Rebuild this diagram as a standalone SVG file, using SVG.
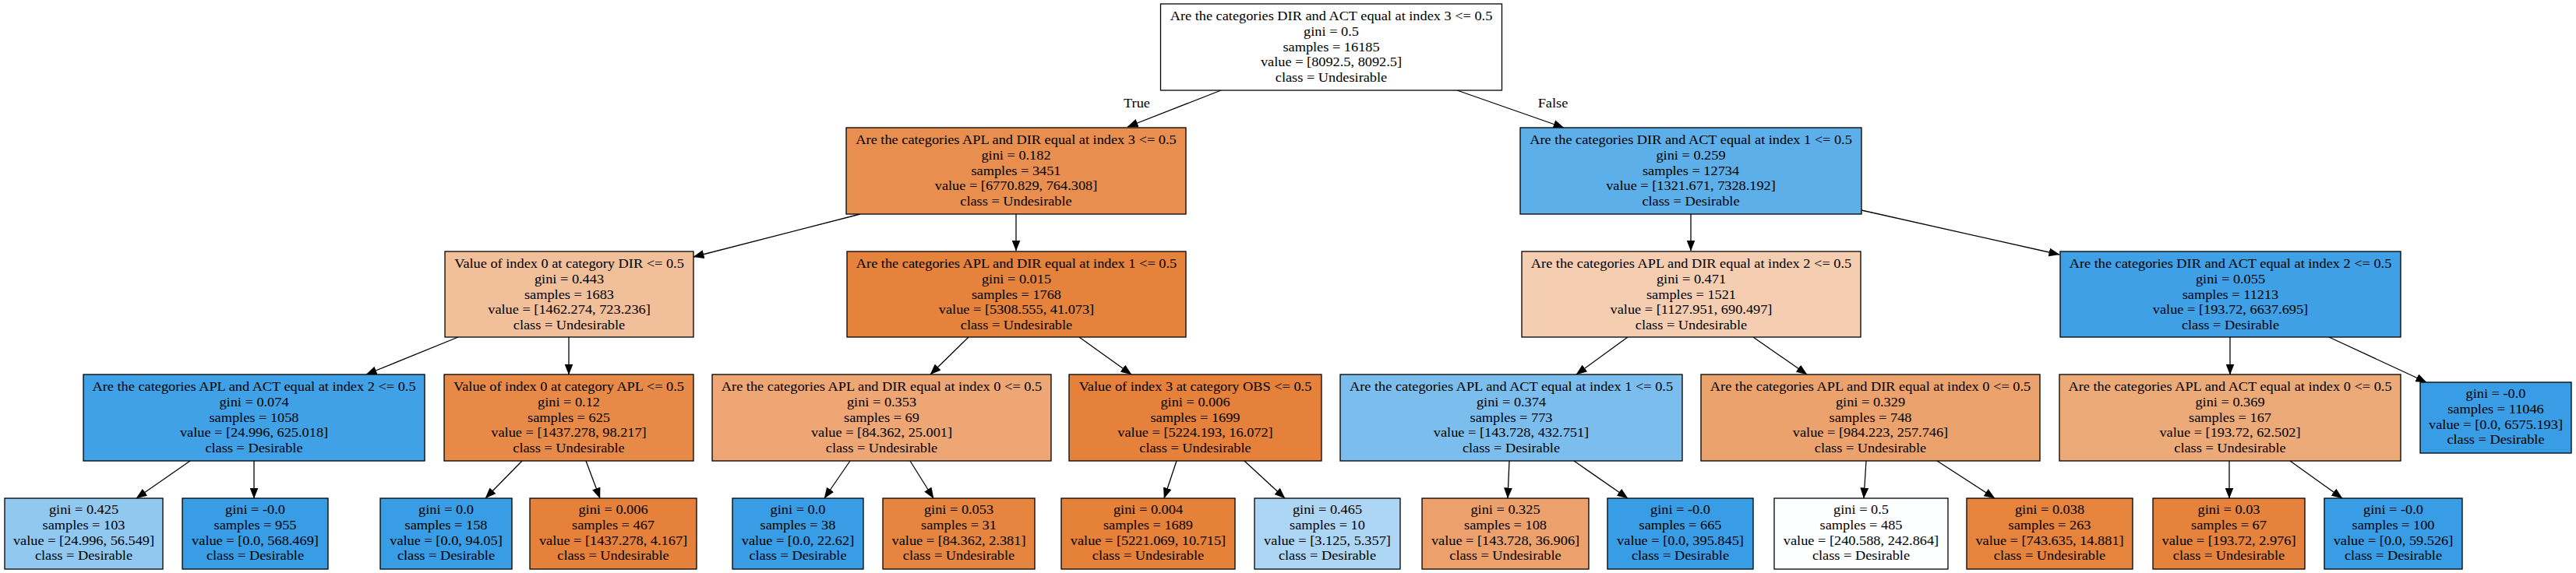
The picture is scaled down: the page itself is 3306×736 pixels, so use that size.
<svg xmlns="http://www.w3.org/2000/svg" width="3306" height="736" viewBox="0 0 3306 736">
<style>
.node rect{stroke:#000;stroke-width:1.3}
text{font-family:"Liberation Serif","Times New Roman",serif;font-size:16.8px;text-anchor:middle;fill:#000}
.edges line{stroke:#000;stroke-width:1.3;marker-end:url(#ah)}
</style>
<defs>
<marker id="ah" markerUnits="userSpaceOnUse" markerWidth="14" markerHeight="11" refX="13.5" refY="5.5" orient="auto">
<path d="M0,0 L14,5.5 L0,11 z" fill="#000"/>
</marker>
</defs>
<rect width="3306" height="736" fill="#fff"/>
<g class="edges">
<line x1="1567" y1="116" x2="1447" y2="163"/>
<line x1="1870" y1="116" x2="2007" y2="164"/>
<line x1="1104" y1="275" x2="890" y2="330"/>
<line x1="1304" y1="275" x2="1304" y2="322"/>
<line x1="2170" y1="275" x2="2170" y2="322"/>
<line x1="2389" y1="270" x2="2643" y2="327"/>
<line x1="588" y1="433" x2="470" y2="481"/>
<line x1="730" y1="433" x2="730" y2="481"/>
<line x1="1243" y1="433" x2="1194" y2="481"/>
<line x1="1385" y1="433" x2="1452" y2="481"/>
<line x1="2089" y1="433" x2="2023" y2="481"/>
<line x1="2250" y1="433" x2="2319" y2="481"/>
<line x1="2862" y1="433" x2="2862" y2="481"/>
<line x1="2989" y1="433" x2="3114" y2="491"/>
<line x1="244" y1="592" x2="175" y2="640"/>
<line x1="326" y1="592" x2="326" y2="640"/>
<line x1="670" y1="592" x2="623" y2="640"/>
<line x1="752" y1="592" x2="770" y2="640"/>
<line x1="1091" y1="592" x2="1058" y2="640"/>
<line x1="1168" y1="592" x2="1198" y2="640"/>
<line x1="1510" y1="592" x2="1494" y2="640"/>
<line x1="1597" y1="592" x2="1649" y2="640"/>
<line x1="1937" y1="592" x2="1935" y2="640"/>
<line x1="2020" y1="592" x2="2089" y2="640"/>
<line x1="2395" y1="592" x2="2392" y2="640"/>
<line x1="2486" y1="592" x2="2560" y2="640"/>
<line x1="2861" y1="592" x2="2861" y2="640"/>
<line x1="2939" y1="592" x2="3006" y2="640"/>
<g transform="translate(1459,0) scale(1.09,1)"><text y="138">True</text></g>
<g transform="translate(1993,0) scale(1.09,1)"><text y="138">False</text></g>
</g>

<g id="n0" class="node"><rect x="1489.5" y="5" width="438" height="111" fill="#ffffff"/>
<g transform="translate(1708.5,0) scale(1.09,1)"><text y="26">Are the categories DIR and ACT equal at index 3 &lt;= 0.5</text><text y="45.8">gini = 0.5</text><text y="65.6">samples = 16185</text><text y="85.4">value = [8092.5, 8092.5]</text><text y="105.2">class = Undesirable</text></g></g>

<g id="n1" class="node"><rect x="1086" y="164" width="436" height="111" fill="#e88f4f"/>
<g transform="translate(1304,0) scale(1.09,1)"><text y="185">Are the categories APL and DIR equal at index 3 &lt;= 0.5</text><text y="204.8">gini = 0.182</text><text y="224.6">samples = 3451</text><text y="244.4">value = [6770.829, 764.308]</text><text y="264.2">class = Undesirable</text></g></g>

<g id="n2" class="node"><rect x="1951" y="164" width="438" height="111" fill="#5dafea"/>
<g transform="translate(2170,0) scale(1.09,1)"><text y="185">Are the categories DIR and ACT equal at index 1 &lt;= 0.5</text><text y="204.8">gini = 0.259</text><text y="224.6">samples = 12734</text><text y="244.4">value = [1321.671, 7328.192]</text><text y="264.2">class = Desirable</text></g></g>

<g id="n3" class="node"><rect x="571" y="323" width="319" height="110" fill="#f2bf9b"/>
<g transform="translate(730.5,0) scale(1.09,1)"><text y="344">Value of index 0 at category DIR &lt;= 0.5</text><text y="363.8">gini = 0.443</text><text y="383.6">samples = 1683</text><text y="403.4">value = [1462.274, 723.236]</text><text y="423.2">class = Undesirable</text></g></g>

<g id="n4" class="node"><rect x="1087" y="323" width="435" height="110" fill="#e5823b"/>
<g transform="translate(1304.5,0) scale(1.09,1)"><text y="344">Are the categories APL and DIR equal at index 1 &lt;= 0.5</text><text y="363.8">gini = 0.015</text><text y="383.6">samples = 1768</text><text y="403.4">value = [5308.555, 41.073]</text><text y="423.2">class = Undesirable</text></g></g>

<g id="n5" class="node"><rect x="1953" y="323" width="435" height="110" fill="#f5ceb2"/>
<g transform="translate(2170.5,0) scale(1.09,1)"><text y="344">Are the categories APL and DIR equal at index 2 &lt;= 0.5</text><text y="363.8">gini = 0.471</text><text y="383.6">samples = 1521</text><text y="403.4">value = [1127.951, 690.497]</text><text y="423.2">class = Undesirable</text></g></g>

<g id="n6" class="node"><rect x="2644" y="323" width="437" height="110" fill="#3fa0e6"/>
<g transform="translate(2862.5,0) scale(1.09,1)"><text y="344">Are the categories DIR and ACT equal at index 2 &lt;= 0.5</text><text y="363.8">gini = 0.055</text><text y="383.6">samples = 11213</text><text y="403.4">value = [193.72, 6637.695]</text><text y="423.2">class = Desirable</text></g></g>

<g id="n7" class="node"><rect x="107" y="481" width="438" height="111" fill="#41a1e6"/>
<g transform="translate(326,0) scale(1.09,1)"><text y="502">Are the categories APL and ACT equal at index 2 &lt;= 0.5</text><text y="521.8">gini = 0.074</text><text y="541.6">samples = 1058</text><text y="561.4">value = [24.996, 625.018]</text><text y="581.2">class = Desirable</text></g></g>

<g id="n8" class="node"><rect x="570" y="481" width="320" height="111" fill="#e78a47"/>
<g transform="translate(730,0) scale(1.09,1)"><text y="502">Value of index 0 at category APL &lt;= 0.5</text><text y="521.8">gini = 0.12</text><text y="541.6">samples = 625</text><text y="561.4">value = [1437.278, 98.217]</text><text y="581.2">class = Undesirable</text></g></g>

<g id="n9" class="node"><rect x="914" y="481" width="435" height="111" fill="#eda674"/>
<g transform="translate(1131.5,0) scale(1.09,1)"><text y="502">Are the categories APL and DIR equal at index 0 &lt;= 0.5</text><text y="521.8">gini = 0.353</text><text y="541.6">samples = 69</text><text y="561.4">value = [84.362, 25.001]</text><text y="581.2">class = Undesirable</text></g></g>

<g id="n10" class="node"><rect x="1372" y="481" width="324" height="111" fill="#e5813a"/>
<g transform="translate(1534,0) scale(1.09,1)"><text y="502">Value of index 3 at category OBS &lt;= 0.5</text><text y="521.8">gini = 0.006</text><text y="541.6">samples = 1699</text><text y="561.4">value = [5224.193, 16.072]</text><text y="581.2">class = Undesirable</text></g></g>

<g id="n11" class="node"><rect x="1720" y="481" width="439" height="111" fill="#7bbeee"/>
<g transform="translate(1939.5,0) scale(1.09,1)"><text y="502">Are the categories APL and ACT equal at index 1 &lt;= 0.5</text><text y="521.8">gini = 0.374</text><text y="541.6">samples = 773</text><text y="561.4">value = [143.728, 432.751]</text><text y="581.2">class = Desirable</text></g></g>

<g id="n12" class="node"><rect x="2183" y="481" width="435" height="111" fill="#eca26d"/>
<g transform="translate(2400.5,0) scale(1.09,1)"><text y="502">Are the categories APL and DIR equal at index 0 &lt;= 0.5</text><text y="521.8">gini = 0.329</text><text y="541.6">samples = 748</text><text y="561.4">value = [984.223, 257.746]</text><text y="581.2">class = Undesirable</text></g></g>

<g id="n13" class="node"><rect x="2643" y="481" width="438" height="111" fill="#edaa79"/>
<g transform="translate(2862,0) scale(1.09,1)"><text y="502">Are the categories APL and ACT equal at index 0 &lt;= 0.5</text><text y="521.8">gini = 0.369</text><text y="541.6">samples = 167</text><text y="561.4">value = [193.72, 62.502]</text><text y="581.2">class = Undesirable</text></g></g>

<g id="l15" class="node"><rect x="3106" y="491" width="194" height="91" fill="#399de5"/>
<g transform="translate(3203,0) scale(1.09,1)"><text y="511">gini = -0.0</text><text y="530.8">samples = 11046</text><text y="550.6">value = [0.0, 6575.193]</text><text y="570.4">class = Desirable</text></g></g>

<g id="l1" class="node"><rect x="6" y="640" width="203" height="91" fill="#91c8f0"/>
<g transform="translate(107.5,0) scale(1.09,1)"><text y="660">gini = 0.425</text><text y="679.8">samples = 103</text><text y="699.6">value = [24.996, 56.549]</text><text y="719.4">class = Desirable</text></g></g>

<g id="l2" class="node"><rect x="234" y="640" width="187" height="91" fill="#399de5"/>
<g transform="translate(327.5,0) scale(1.09,1)"><text y="660">gini = -0.0</text><text y="679.8">samples = 955</text><text y="699.6">value = [0.0, 568.469]</text><text y="719.4">class = Desirable</text></g></g>

<g id="l3" class="node"><rect x="488" y="640" width="169" height="91" fill="#399de5"/>
<g transform="translate(572.5,0) scale(1.09,1)"><text y="660">gini = 0.0</text><text y="679.8">samples = 158</text><text y="699.6">value = [0.0, 94.05]</text><text y="719.4">class = Desirable</text></g></g>

<g id="l4" class="node"><rect x="680" y="640" width="214" height="91" fill="#e5813a"/>
<g transform="translate(787,0) scale(1.09,1)"><text y="660">gini = 0.006</text><text y="679.8">samples = 467</text><text y="699.6">value = [1437.278, 4.167]</text><text y="719.4">class = Undesirable</text></g></g>

<g id="l5" class="node"><rect x="940" y="640" width="168" height="91" fill="#399de5"/>
<g transform="translate(1024,0) scale(1.09,1)"><text y="660">gini = 0.0</text><text y="679.8">samples = 38</text><text y="699.6">value = [0.0, 22.62]</text><text y="719.4">class = Desirable</text></g></g>

<g id="l6" class="node"><rect x="1133" y="640" width="195" height="91" fill="#e6853f"/>
<g transform="translate(1230.5,0) scale(1.09,1)"><text y="660">gini = 0.053</text><text y="679.8">samples = 31</text><text y="699.6">value = [84.362, 2.381]</text><text y="719.4">class = Undesirable</text></g></g>

<g id="l7" class="node"><rect x="1362" y="640" width="223" height="91" fill="#e58139"/>
<g transform="translate(1473.5,0) scale(1.09,1)"><text y="660">gini = 0.004</text><text y="679.8">samples = 1689</text><text y="699.6">value = [5221.069, 10.715]</text><text y="719.4">class = Undesirable</text></g></g>

<g id="l8" class="node"><rect x="1610" y="640" width="187" height="91" fill="#add6f4"/>
<g transform="translate(1703.5,0) scale(1.09,1)"><text y="660">gini = 0.465</text><text y="679.8">samples = 10</text><text y="699.6">value = [3.125, 5.357]</text><text y="719.4">class = Desirable</text></g></g>

<g id="l9" class="node"><rect x="1825" y="640" width="214" height="91" fill="#eca16c"/>
<g transform="translate(1932,0) scale(1.09,1)"><text y="660">gini = 0.325</text><text y="679.8">samples = 108</text><text y="699.6">value = [143.728, 36.906]</text><text y="719.4">class = Undesirable</text></g></g>

<g id="l10" class="node"><rect x="2063" y="640" width="187" height="91" fill="#399de5"/>
<g transform="translate(2156.5,0) scale(1.09,1)"><text y="660">gini = -0.0</text><text y="679.8">samples = 665</text><text y="699.6">value = [0.0, 395.845]</text><text y="719.4">class = Desirable</text></g></g>

<g id="l11" class="node"><rect x="2277" y="640" width="223" height="91" fill="#fdfeff"/>
<g transform="translate(2388.5,0) scale(1.09,1)"><text y="660">gini = 0.5</text><text y="679.8">samples = 485</text><text y="699.6">value = [240.588, 242.864]</text><text y="719.4">class = Desirable</text></g></g>

<g id="l12" class="node"><rect x="2524" y="640" width="213" height="91" fill="#e6843d"/>
<g transform="translate(2630.5,0) scale(1.09,1)"><text y="660">gini = 0.038</text><text y="679.8">samples = 263</text><text y="699.6">value = [743.635, 14.881]</text><text y="719.4">class = Undesirable</text></g></g>

<g id="l13" class="node"><rect x="2763" y="640" width="195" height="91" fill="#e5833c"/>
<g transform="translate(2860.5,0) scale(1.09,1)"><text y="660">gini = 0.03</text><text y="679.8">samples = 67</text><text y="699.6">value = [193.72, 2.976]</text><text y="719.4">class = Undesirable</text></g></g>

<g id="l14" class="node"><rect x="2983" y="640" width="177" height="91" fill="#399de5"/>
<g transform="translate(3071.5,0) scale(1.09,1)"><text y="660">gini = -0.0</text><text y="679.8">samples = 100</text><text y="699.6">value = [0.0, 59.526]</text><text y="719.4">class = Desirable</text></g></g>
</svg>
